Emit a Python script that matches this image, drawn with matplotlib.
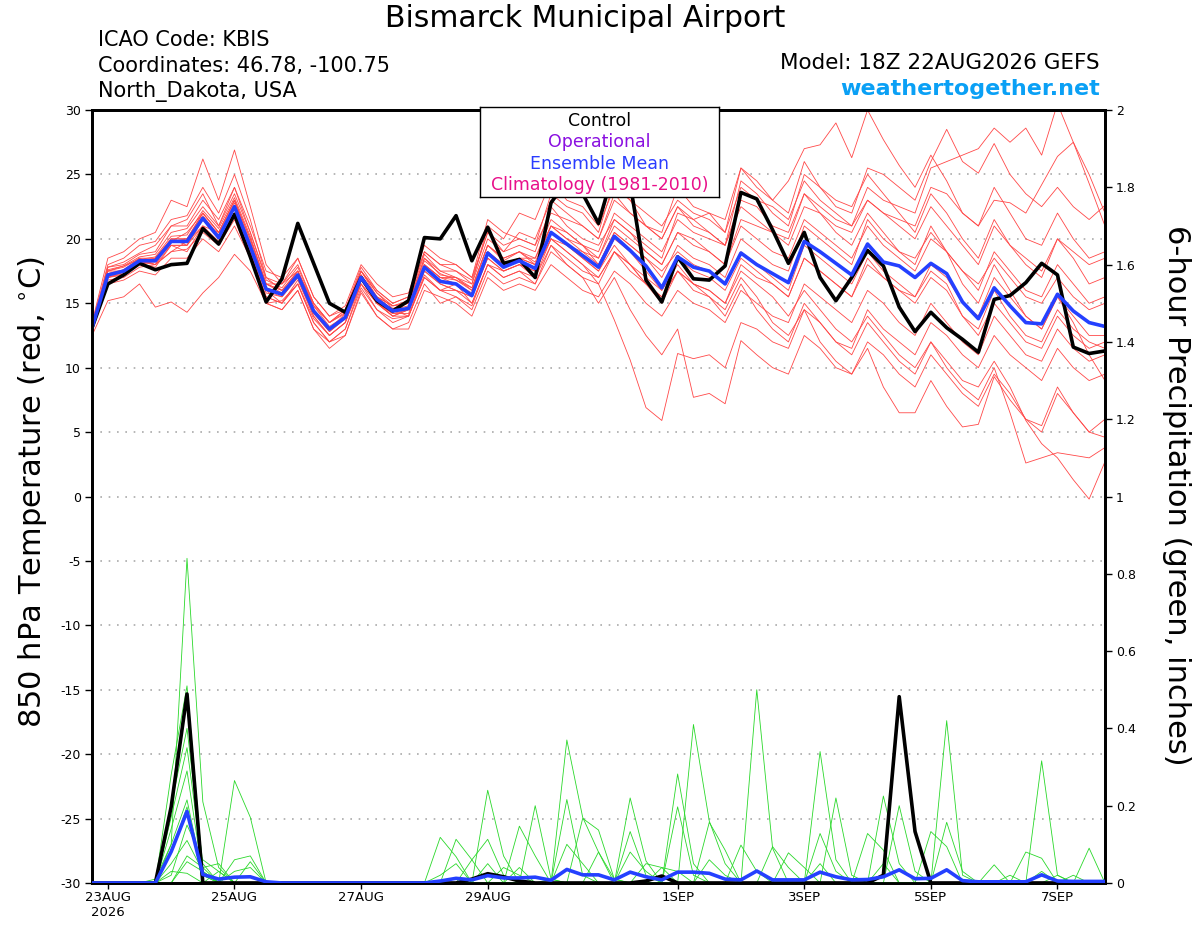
import matplotlib
matplotlib.use("Agg")
import matplotlib.pyplot as plt
import pandas as pd

plt.rcParams['font.family'] = ['DejaVu Sans']
plt.rcParams['axes.unicode_minus'] = False

# 6-hourly GEFS steps, 18Z 22AUG2026 to 18Z 07SEP2026
times = pd.date_range('2026-08-22 18:00', periods=65, freq='6h')

# 850 hPa temperature (deg C)
control_t = [13.1, 16.5, 17.2, 18.1, 17.6, 18.0, 18.1, 20.8, 19.6, 21.9, 18.6,
             15.1, 16.9, 21.2, 18.1, 15.0, 14.3, 17.0, 15.2, 14.4, 15.2,
             20.1, 20.0, 21.8, 18.3, 20.9, 18.1, 18.4, 17.0, 22.8, 24.5, 23.5, 21.2,
             25.5, 24.3, 16.8, 15.1, 18.6, 16.9, 16.8, 17.9, 23.6, 23.1, 20.7, 18.1,
             20.5, 17.0, 15.2, 17.0, 19.1, 17.9, 14.7, 12.8, 14.3, 13.1,
             12.2, 11.2, 15.3, 15.6, 16.6, 18.1, 17.2, 11.6, 11.1, 11.3]
mean_t = [13.1, 17.2, 17.5, 18.3, 18.3, 19.8, 19.8, 21.6, 20.1, 22.5, 19.4,
          16.1, 15.7, 17.2, 14.4, 13.0, 13.9, 17.0, 15.3, 14.4, 14.6,
          17.8, 16.7, 16.5, 15.6, 18.9, 17.8, 18.3, 17.7, 20.5, 19.6, 18.7, 17.8,
          20.2, 19.1, 17.9, 16.2, 18.6, 17.8, 17.5, 16.5, 18.9, 18.0, 17.3, 16.6,
          19.8, 19.0, 18.1, 17.2, 19.6, 18.2, 17.9, 17.0, 18.1, 17.3,
          15.1, 13.8, 16.2, 14.8, 13.5, 13.4, 15.7, 14.4, 13.5, 13.2]

# ensemble members (temperature)
r01 = [13.0, 17.8, 18.2, 18.9, 19.5, 21.0, 21.5, 23.5, 21.0, 24.0, 20.5,
       17.0, 16.5, 18.0, 15.0, 13.5, 14.5, 17.5, 15.5, 14.8, 15.0,
       18.5, 17.5, 17.0, 16.5, 20.0, 19.0, 20.5, 20.0, 23.0, 22.0, 21.0, 20.0,
       23.5, 22.0, 21.0, 20.5, 24.0, 22.5, 22.0, 21.5, 25.5, 24.0, 23.0, 24.5,
       27.0, 27.3, 29.0, 26.3, 30.0, 27.7, 25.7, 24.0, 26.5, 24.5,
       22.0, 21.0, 24.0, 22.0, 20.0, 19.5, 22.0, 20.0, 18.5, 19.0]
r02 = [13.2, 17.0, 17.3, 18.0, 17.8, 19.5, 19.0, 21.0, 19.5, 22.0, 19.0,
       16.0, 15.0, 16.5, 13.8, 12.5, 13.5, 16.5, 15.0, 14.0, 14.5,
       18.0, 17.0, 16.8, 16.0, 19.5, 18.5, 19.0, 18.5, 21.5, 20.5, 19.5, 19.0,
       22.0, 21.0, 20.0, 19.0, 21.5, 20.5, 20.0, 19.5, 23.0, 22.5, 21.0, 20.5,
       23.5, 22.5, 21.5, 21.0, 24.0, 23.0, 22.5, 22.0, 25.5, 26.0,
       26.5, 27.0, 28.6, 27.5, 28.6, 26.5, 30.5, 27.5, 24.3, 21.0]
r03 = [12.8, 17.5, 17.9, 18.6, 18.8, 20.5, 20.8, 22.5, 21.0, 23.5, 20.5,
       16.8, 16.2, 17.8, 15.0, 13.5, 14.2, 17.2, 15.5, 14.8, 15.2,
       18.8, 17.5, 17.5, 16.8, 20.5, 19.0, 19.5, 19.0, 22.5, 21.0, 20.0, 19.5,
       21.5, 20.5, 19.5, 18.5, 22.0, 21.5, 20.5, 19.5, 24.5, 23.5, 22.0, 21.0,
       25.0, 24.0, 22.5, 22.0, 25.5, 25.0, 24.0, 23.0, 26.0, 28.5,
       26.0, 25.1, 27.4, 25.0, 23.5, 22.5, 24.0, 22.5, 21.5, 22.6]
r04 = [13.5, 18.5, 19.0, 20.0, 20.5, 23.0, 22.5, 26.2, 23.0, 26.9, 22.5,
       18.0, 16.5, 18.5, 15.5, 14.0, 14.5, 17.8, 16.0, 15.0, 15.5,
       19.0, 18.0, 17.5, 16.5, 21.0, 20.0, 22.0, 21.5, 24.5, 23.0, 22.5, 21.0,
       24.0, 23.0, 21.0, 20.0, 22.5, 21.5, 22.0, 20.5, 25.5, 24.5, 23.0, 22.0,
       26.0, 24.0, 23.0, 22.5, 25.0, 23.5, 22.0, 20.5, 23.5, 22.0,
       20.0, 18.5, 21.5, 19.5, 18.0, 17.0, 20.0, 18.5, 16.5, 17.0]
r05 = [12.5, 15.2, 15.5, 16.5, 14.7, 15.1, 14.3, 15.8, 17.0, 18.8, 17.5,
       15.0, 14.5, 16.0, 13.0, 12.0, 12.5, 16.0, 14.0, 13.0, 13.5,
       16.5, 15.0, 15.5, 14.5, 17.5, 16.5, 17.0, 16.5, 19.0, 18.0, 17.0, 16.5,
       19.0, 18.0, 16.5, 15.5, 17.5, 16.5, 16.0, 15.0, 18.0, 17.0, 16.5, 15.5,
       18.5, 17.5, 16.5, 15.5, 18.5, 17.0, 16.0, 15.0, 17.0, 16.0,
       14.0, 12.5, 15.0, 13.5, 12.0, 11.5, 14.0, 12.5, 11.5, 12.0]
r06 = [13.0, 17.0, 17.5, 18.2, 18.0, 19.5, 19.5, 21.5, 20.0, 22.5, 19.0,
       15.5, 15.0, 16.8, 14.0, 12.5, 13.5, 16.8, 15.0, 14.2, 14.5,
       17.5, 16.5, 16.0, 15.5, 18.5, 17.5, 18.0, 17.5, 20.0, 19.0, 18.0, 16.5,
       13.7, 10.6, 6.9, 5.9, 11.1, 10.7, 11.0, 10.0, 13.5, 13.0, 12.0, 11.5,
       14.5, 13.5, 12.0, 11.5, 14.5, 13.0, 12.0, 11.0, 13.5, 12.5,
       11.0, 10.0, 12.5, 11.0, 10.0, 9.0, 11.5, 10.0, 9.0, 9.5]
r07 = [13.2, 17.3, 17.6, 18.5, 18.0, 19.0, 19.8, 21.0, 20.5, 22.0, 19.5,
       16.5, 16.0, 17.0, 14.5, 13.0, 14.0, 17.0, 15.5, 14.5, 14.0,
       17.0, 16.0, 16.5, 15.0, 18.0, 17.0, 17.5, 17.0, 19.5, 18.0, 17.0, 15.0,
       17.0, 14.5, 12.5, 11.0, 13.0, 7.7, 8.0, 7.2, 12.1, 11.0, 10.0, 9.5,
       12.5, 11.5, 10.0, 9.5, 12.0, 11.0, 9.5, 8.5, 11.0, 9.5,
       8.0, 7.0, 9.5, 8.0, 6.0, 5.0, 8.0, 6.5, 5.0, 4.6]
r08 = [13.0, 16.8, 17.0, 17.8, 18.0, 19.0, 19.2, 20.5, 19.5, 21.5, 18.5,
       15.0, 15.2, 16.5, 13.5, 12.0, 13.0, 16.5, 14.5, 13.5, 14.0,
       17.0, 16.0, 15.5, 14.8, 18.0, 17.0, 17.5, 16.5, 19.5, 18.5, 17.5, 17.0,
       19.0, 18.0, 16.5, 15.0, 17.5, 16.5, 16.0, 15.0, 17.5, 16.5, 15.5, 14.0,
       16.0, 14.5, 13.0, 12.0, 14.0, 12.5, 11.0, 10.0, 12.0, 10.5,
       9.0, 8.5, 10.5, 8.5, 5.9, 4.1, 3.0, 1.3, -0.2, 2.7]
r09 = [13.1, 17.5, 17.8, 18.5, 18.5, 20.0, 20.0, 22.0, 20.5, 23.0, 20.0,
       16.5, 15.8, 17.5, 14.8, 13.5, 14.3, 17.5, 15.8, 14.8, 15.0,
       18.0, 17.0, 17.0, 16.0, 19.0, 18.0, 18.5, 18.0, 20.5, 19.5, 18.5, 17.5,
       19.5, 18.0, 17.0, 16.0, 18.0, 16.5, 15.5, 14.5, 17.0, 15.5, 13.5, 12.5,
       14.5, 12.0, 10.5, 9.5, 11.5, 8.5, 6.5, 6.5, 9.0, 7.0,
       5.4, 5.6, 9.3, 7.5, 6.0, 5.5, 8.5, 6.5, 5.0, 6.0]
r10 = [12.9, 17.0, 17.2, 18.0, 18.3, 19.5, 19.5, 21.0, 19.8, 22.0, 19.0,
       15.8, 15.5, 17.0, 14.2, 12.8, 13.8, 16.5, 15.0, 14.0, 14.0,
       17.5, 16.5, 16.0, 15.5, 18.5, 17.5, 18.0, 17.5, 20.0, 19.0, 18.0, 17.0,
       19.0, 17.5, 16.5, 15.5, 17.5, 16.0, 15.5, 14.0, 16.5, 14.5, 13.0, 12.0,
       15.0, 13.5, 12.0, 11.0, 13.5, 12.0, 10.5, 9.5, 12.0, 10.0,
       8.5, 7.5, 10.0, 6.5, 2.6, 3.0, 3.4, 3.2, 3.0, 3.8]
r11 = [13.3, 17.8, 18.0, 18.8, 19.0, 21.0, 21.0, 23.0, 21.5, 24.0, 21.0,
       17.5, 17.0, 18.5, 15.5, 14.0, 14.8, 18.0, 16.5, 15.5, 15.8,
       19.5, 18.5, 18.0, 17.0, 21.5, 20.5, 20.0, 19.5, 23.5, 22.5, 22.0, 20.5,
       24.5, 23.0, 22.0, 21.0, 23.0, 22.0, 21.5, 20.5, 24.0, 23.0, 22.5, 21.5,
       24.5, 23.0, 22.0, 21.0, 23.0, 22.0, 21.0, 20.0, 22.5, 21.0,
       19.5, 18.0, 21.0, 19.5, 18.5, 17.5, 20.0, 19.0, 18.0, 18.5]
r12 = [12.9, 17.2, 17.6, 18.3, 18.5, 19.8, 20.5, 22.0, 20.5, 23.0, 19.5,
       16.0, 15.5, 17.0, 14.0, 12.5, 13.5, 17.0, 15.0, 14.0, 14.5,
       18.0, 17.0, 16.5, 15.5, 19.0, 18.0, 18.5, 18.5, 21.0, 20.0, 19.0, 18.5,
       21.0, 20.0, 19.0, 18.0, 20.5, 20.0, 19.0, 18.0, 21.5, 21.0, 20.5, 19.5,
       22.5, 22.0, 21.0, 20.5, 23.0, 22.0, 21.5, 21.0, 24.0, 23.5,
       22.0, 21.0, 23.0, 22.8, 22.0, 24.2, 26.4, 27.5, 25.0, 22.0]
r13 = [13.0, 16.5, 16.8, 17.5, 17.2, 18.5, 18.5, 20.0, 19.0, 21.0, 18.5,
       15.0, 14.5, 16.0, 13.0, 11.5, 12.5, 15.8, 14.0, 13.0, 13.0,
       16.0, 15.5, 15.0, 14.0, 17.0, 16.0, 16.5, 16.0, 18.0, 17.0, 16.0, 15.5,
       17.5, 16.5, 15.0, 14.0, 16.0, 15.0, 14.5, 13.5, 16.0, 15.0, 14.0, 13.5,
       16.5, 15.5, 14.5, 13.5, 16.0, 15.0, 13.5, 12.5, 15.0, 13.5,
       12.0, 11.0, 14.0, 12.5, 11.0, 10.5, 13.0, 11.5, 10.5, 11.0]
r14 = [13.4, 18.0, 18.5, 19.5, 19.8, 21.5, 21.8, 24.0, 22.0, 25.0, 21.5,
       17.0, 16.0, 17.5, 14.8, 13.2, 14.0, 17.2, 15.3, 14.5, 14.8,
       18.3, 17.3, 16.8, 16.2, 19.5, 18.3, 19.0, 18.0, 21.0, 20.5, 19.5, 18.0,
       20.5, 19.5, 18.5, 17.0, 19.5, 18.5, 18.0, 17.0, 20.0, 19.0, 18.0, 17.5,
       21.0, 20.0, 19.0, 18.0, 21.5, 20.0, 19.0, 18.5, 20.5, 19.0,
       17.5, 16.5, 18.5, 17.0, 15.5, 15.0, 17.0, 15.5, 14.5, 15.0]
r15 = [12.8, 17.0, 17.4, 18.0, 18.5, 20.0, 19.5, 21.5, 20.0, 22.5, 18.5,
       15.5, 15.0, 16.5, 13.5, 12.0, 13.0, 16.2, 14.5, 13.8, 14.0,
       17.2, 16.0, 16.0, 15.0, 18.0, 17.5, 18.0, 17.0, 20.0, 19.5, 19.0, 18.0,
       20.5, 19.5, 18.5, 17.5, 19.0, 18.0, 17.5, 16.5, 19.0, 18.0, 17.0, 16.0,
       19.5, 18.5, 17.5, 16.5, 19.0, 17.5, 16.5, 15.5, 18.0, 17.0,
       15.0, 14.0, 17.0, 15.5, 14.0, 13.0, 15.5, 14.0, 12.5, 12.5]
r16 = [13.2, 17.5, 17.5, 18.3, 18.0, 20.0, 20.0, 22.0, 20.5, 23.0, 20.0,
       16.5, 16.5, 17.5, 15.0, 13.5, 14.5, 17.5, 16.0, 15.0, 15.5,
       19.0, 18.0, 18.0, 17.0, 20.5, 19.5, 20.0, 19.5, 22.0, 21.5, 21.0, 20.0,
       23.0, 22.0, 21.0, 20.0, 22.5, 21.0, 20.5, 19.5, 22.5, 21.5, 20.5, 20.0,
       23.5, 22.0, 20.5, 19.5, 22.0, 20.5, 19.0, 18.0, 21.0, 19.0,
       16.5, 15.0, 18.0, 16.0, 14.0, 13.0, 15.5, 13.5, 11.0, 9.0]
r17 = [13.0, 17.3, 17.5, 18.2, 18.2, 19.8, 20.0, 21.8, 20.3, 22.8, 19.8,
       16.2, 15.8, 17.2, 14.3, 12.8, 13.8, 17.2, 15.0, 14.2, 14.2,
       17.8, 16.8, 16.5, 15.8, 19.0, 18.0, 18.5, 18.0, 20.5, 19.5, 18.5, 17.5,
       20.0, 19.0, 17.5, 16.0, 18.5, 17.5, 17.0, 16.0, 18.5, 17.5, 16.5, 15.5,
       18.5, 17.5, 16.5, 15.5, 18.0, 17.0, 16.0, 15.5, 17.5, 16.5,
       14.0, 13.0, 16.0, 14.0, 12.5, 12.0, 14.5, 13.0, 12.0, 11.5]
r18 = [13.1, 17.6, 17.9, 18.4, 18.6, 20.2, 20.3, 22.2, 20.8, 23.2, 20.2,
       16.5, 16.0, 17.5, 14.5, 13.0, 14.2, 17.5, 15.8, 14.6, 15.0,
       18.5, 17.2, 17.0, 16.2, 19.5, 18.5, 19.0, 18.2, 21.0, 20.0, 19.5, 18.5,
       21.5, 20.5, 19.0, 18.0, 20.5, 19.5, 19.0, 18.0, 21.0, 20.0, 19.0, 18.5,
       21.5, 20.5, 19.5, 18.5, 21.0, 19.5, 18.5, 17.5, 20.0, 19.0,
       17.5, 16.0, 19.0, 17.5, 16.0, 15.5, 18.0, 16.5, 15.0, 15.5]
red_members = [r01, r02, r03, r04, r05, r06, r07, r08, r09,
               r10, r11, r12, r13, r14, r15, r16, r17, r18]

# 6-hour precipitation (inches)
control_p = [0, 0, 0, 0, 0, .197, .489, 0, 0, 0,
             0, 0, 0, 0, 0, 0, 0, 0, 0, 0,
             0, 0, 0, 0, .010, .024, .016, .005, 0, 0,
             0, 0, 0, 0, 0, .005, .018, 0, 0, 0,
             0, 0, 0, 0, 0, 0, 0, 0, 0, 0,
             .020, .482, .133, 0, 0, 0, 0, 0, 0, 0,
             0, 0, 0, 0, 0]
mean_p = [0, 0, 0, 0, 0, .081, .185, .022, .010, .015,
          .016, .003, 0, 0, 0, 0, 0, 0, 0, 0,
          0, 0, .005, .012, .008, .019, .013, .013, .015, .007,
          .035, .021, .021, .008, .028, .016, .008, .028, .028, .025,
          .010, .008, .031, .008, .008, .008, .028, .016, .008, .009,
          .016, .034, .011, .012, .034, .006, .003, .003, .003, .003,
          .021, .005, .004, .004, .004]

g01 = [0, 0, 0, 0, .01, .10, .84, .21, .04, 0,
       0, 0, 0, 0, 0, 0, 0, 0, 0, 0,
       0, 0, 0, 0, 0, .05, 0, 0, 0, 0,
       .37, .17, .08, 0, 0, 0, 0, 0, 0, 0,
       0, 0, 0, 0, 0, 0, .05, 0, 0, 0,
       0, 0, 0, 0, 0, 0, 0, 0, 0, 0,
       0, 0, 0, 0, 0]
g02 = [0, 0, 0, 0, 0, .28, .51, .03, 0, .06,
       .07, 0, 0, 0, 0, 0, 0, 0, 0, 0,
       0, 0, 0, 0, 0, 0, 0, .04, 0, 0,
       0, 0, 0, 0, 0, 0, 0, 0, .41, .16,
       .05, 0, 0, 0, 0, 0, 0, 0, 0, 0,
       0, 0, 0, 0, .42, .02, 0, 0, 0, 0,
       0, 0, 0, 0, 0]
g03 = [0, 0, 0, 0, 0, .20, .40, .05, 0, .265,
       .17, 0, 0, 0, 0, 0, 0, 0, 0, 0,
       0, 0, 0, .113, .06, 0, 0, 0, 0, 0,
       0, 0, 0, 0, 0, 0, 0, 0, 0, 0,
       0, 0, .50, .09, 0, 0, 0, 0, 0, 0,
       0, 0, 0, 0, 0, 0, 0, 0, 0, 0,
       .316, .02, 0, 0, 0]
g04 = [0, 0, 0, 0, 0, .17, .35, .04, .05, 0,
       0, 0, 0, 0, 0, 0, 0, 0, 0, 0,
       0, 0, 0, 0, 0, .24, .07, 0, 0, 0,
       0, 0, 0, 0, 0, 0, 0, .282, .05, 0,
       0, 0, 0, 0, 0, 0, .34, .06, 0, 0,
       0, 0, 0, 0, 0, 0, 0, 0, 0, 0,
       0, 0, 0, 0, 0]
g05 = [0, 0, 0, 0, 0, .14, .29, .02, 0, 0,
       0, 0, 0, 0, 0, 0, 0, 0, 0, 0,
       0, 0, .118, .068, 0, 0, 0, 0, .20, .01,
       0, 0, 0, 0, .22, .057, 0, 0, 0, 0,
       0, 0, 0, 0, 0, 0, 0, 0, 0, 0,
       .225, .05, 0, 0, 0, 0, 0, 0, 0, 0,
       0, 0, 0, 0, 0]
g06 = [0, 0, 0, 0, 0, .10, .215, .02, 0, 0,
       .055, 0, 0, 0, 0, 0, 0, 0, 0, 0,
       0, 0, 0, 0, 0, 0, 0, .147, .07, 0,
       0, .167, .137, .01, 0, 0, 0, 0, 0, 0,
       0, 0, 0, 0, 0, 0, 0, 0, 0, 0,
       0, .20, .03, 0, 0, 0, 0, 0, 0, 0,
       0, 0, 0, .09, 0]
g07 = [0, 0, 0, 0, 0, .08, .197, 0, .03, 0,
       0, 0, 0, 0, 0, 0, 0, 0, 0, 0,
       0, 0, 0, 0, 0, 0, 0, 0, 0, 0,
       .216, .02, 0, 0, 0, 0, 0, .197, .02, 0,
       0, 0, 0, 0, 0, 0, 0, .22, .02, 0,
       0, 0, 0, 0, .157, .03, 0, 0, 0, 0,
       0, 0, 0, 0, 0]
g08 = [0, 0, 0, 0, 0, .05, .11, .03, 0, 0,
       0, 0, 0, 0, 0, 0, 0, 0, 0, 0,
       0, 0, 0, 0, .06, .113, .02, 0, 0, 0,
       0, 0, 0, 0, .133, .02, 0, 0, 0, .157,
       .085, 0, 0, 0, 0, 0, 0, 0, 0, 0,
       0, 0, 0, .133, .094, 0, 0, 0, 0, 0,
       0, 0, 0, 0, 0]
g09 = [0, 0, 0, 0, 0, 0, .055, .03, 0, .03,
       .04, 0, 0, 0, 0, 0, 0, 0, 0, 0,
       0, 0, 0, 0, 0, 0, 0, 0, 0, 0,
       0, 0, .08, .01, 0, 0, 0, 0, 0, 0,
       0, .098, .03, 0, 0, 0, 0, 0, 0, .128,
       .085, 0, 0, 0, 0, 0, 0, 0, 0, .08,
       .064, 0, 0, 0, 0]
g10 = [0, 0, 0, 0, 0, .03, .025, 0, 0, 0,
       0, 0, 0, 0, 0, 0, 0, 0, 0, 0,
       0, 0, .02, .05, 0, 0, 0, 0, 0, 0,
       .10, .05, 0, 0, .08, .03, 0, 0, 0, 0,
       0, 0, 0, 0, .078, .04, 0, 0, 0, 0,
       0, 0, 0, 0, 0, 0, 0, .047, 0, 0,
       .03, 0, 0, 0, 0]
g11 = [0, 0, 0, 0, 0, 0, .07, .04, 0, 0,
       0, 0, 0, 0, 0, 0, 0, 0, 0, 0,
       0, 0, 0, 0, 0, 0, 0, 0, 0, .01,
       0, 0, 0, 0, 0, 0, .04, .03, 0, 0,
       0, 0, 0, .094, .04, 0, .128, .03, 0, 0,
       0, 0, 0, 0, 0, 0, 0, 0, .02, 0,
       0, .02, 0, 0, 0]
g12 = [0, 0, 0, 0, 0, .02, .15, .06, .03, 0,
       0, 0, 0, 0, 0, 0, 0, 0, 0, 0,
       0, 0, 0, 0, 0, 0, .04, .02, 0, 0,
       0, 0, 0, 0, 0, .05, .04, 0, 0, .06,
       .02, 0, 0, 0, 0, 0, 0, 0, 0, 0,
       .05, 0, 0, 0, 0, 0, 0, 0, 0, 0,
       0, 0, .02, 0, 0]
green_members = [g01, g02, g03, g04, g05, g06, g07, g08, g09, g10, g11, g12]

tick_dates = ['2026-08-23', '2026-08-25', '2026-08-27', '2026-08-29',
              '2026-09-01', '2026-09-03', '2026-09-05', '2026-09-07']
tick_labels = ['23AUG\n2026', '25AUG', '27AUG', '29AUG', '1SEP', '3SEP', '5SEP', '7SEP']
temp_ticks = list(range(-30, 31, 5))
precip_ticks = [0, 0.2, 0.4, 0.6, 0.8, 1, 1.2, 1.4, 1.6, 1.8, 2]
precip_labels = ['0', '0.2', '0.4', '0.6', '0.8', '1', '1.2', '1.4', '1.6', '1.8', '2']

fig = plt.figure(figsize=(12, 9.27), dpi=100)
ax = fig.add_axes([0.0767, 0.0475, 0.8441, 0.8338])

# dotted grid every 5 degrees
for t in temp_ticks[1:-1]:
    ax.axhline(t, color='#aaaaaa', linestyle=(0, (1, 4)), linewidth=1.2, zorder=0)

for m in red_members:
    ax.plot(times, m, color='#ff4848', linewidth=0.6, zorder=2)
ax.plot(times, control_t, color='black', linewidth=2.6, zorder=4)
ax.plot(times, mean_t, color='#2440ff', linewidth=2.6, zorder=5)

ax.set_xlim(times[0], times[-1])
ax.set_ylim(-30, 30)
ax.set_yticks(temp_ticks)
ax.set_xticks(pd.to_datetime(tick_dates))
ax.set_xticklabels(tick_labels)
ax.tick_params(axis='y', direction='out', length=5, width=1, labelsize=9, pad=3)
ax.tick_params(axis='x', direction='out', length=4, width=1, labelsize=9.5, pad=2)
for s in ax.spines.values():
    s.set_linewidth(2)

# precipitation on the right axis
ax2 = ax.twinx()
for g in green_members:
    ax2.plot(times, g, color='#2ad82a', linewidth=0.6, zorder=2)
ax2.plot(times, control_p, color='black', linewidth=2.6, zorder=4)
ax2.plot(times, mean_p, color='#2440ff', linewidth=2.6, zorder=5)
ax2.set_ylim(0, 2)
ax2.set_yticks(precip_ticks)
ax2.set_yticklabels(precip_labels)
ax2.tick_params(axis='y', direction='out', length=5, width=1, labelsize=9, pad=3)
ax2.set_xlim(times[0], times[-1])
for s in ax2.spines.values():
    s.set_linewidth(2)

fig.text(0.027, 0.469, '850 hPa Temperature (red, $^{\\circ}$C)', rotation=90,
         ha='center', va='center', fontsize=22)
fig.text(0.980, 0.466, '6-hour Precipitation (green, inches)', rotation=270,
         ha='center', va='center', fontsize=22)

# header
fig.text(0.4875, 0.980, 'Bismarck Municipal Airport', ha='center', va='center', fontsize=21.5)
fig.text(0.0817, 0.957, 'ICAO Code: KBIS', ha='left', va='center', fontsize=15)
fig.text(0.0817, 0.929, 'Coordinates: 46.78, -100.75', ha='left', va='center', fontsize=15)
fig.text(0.0817, 0.901, 'North_Dakota, USA', ha='left', va='center', fontsize=15)
fig.text(0.9167, 0.932, 'Model: 18Z 22AUG2026 GEFS', ha='right', va='center', fontsize=15.5)
fig.text(0.9167, 0.904, 'weathertogether.net', ha='right', va='center', fontsize=16,
         fontweight='bold', color='#0aa0f5')

# legend box
lg = fig.add_axes([0.4, 0.7875, 0.1992, 0.0971])
lg.set_facecolor('white')
lg.set_xticks([])
lg.set_yticks([])
for s in lg.spines.values():
    s.set_linewidth(1)
legend_items = [('Control', 'black'), ('Operational', '#8a10e0'),
                ('Ensemble Mean', '#2a3cff'), ('Climatology (1981-2010)', '#e8108a')]
for k, (txt, col) in enumerate(legend_items):
    lg.text(0.5, 0.844 - k * 0.237, txt, color=col, ha='center', va='center',
            fontsize=12.5, transform=lg.transAxes)

fig.savefig('out.png', dpi=100)
